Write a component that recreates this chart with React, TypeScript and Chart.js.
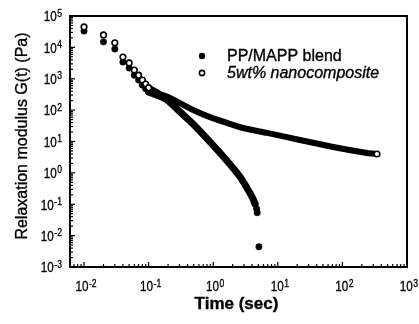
import React, { useEffect, useRef } from "react";
import { Chart, registerables } from "chart.js";

Chart.register(...registerables);

// ---- tick decades ----
const xDecades = [-2, -1, 0, 1, 2, 3];
const yDecades = [5, 4, 3, 2, 1, 0, -1, -2, -3];

// ---- PP/MAPP blend (filled circles) ----
const blendSparseT = [0.01, 0.02, 0.03, 0.04, 0.05, 0.06, 0.07, 0.08, 0.09, 0.1];
const blendSparseG = [33000, 15000, 8900, 3400, 2200, 1300, 910, 630, 480, 380];
const blendBandT = [0.1, 0.193, 0.306, 0.487, 0.891, 1.64, 2.6, 3.46, 4.13, 4.44];
const blendBandG = [380, 211, 88, 36, 9.7, 2.4, 0.75, 0.29, 0.149, 0.103];
const blendTailT = [4.44, 4.7, 4.8, 5.1];
const blendTailG = [0.103, 0.072, 0.054, 0.0044];

// ---- 5wt% nanocomposite (open circles) ----
const nanoSparseT = [0.01, 0.02, 0.03, 0.04, 0.05, 0.06, 0.07, 0.08, 0.09, 0.1, 343];
const nanoSparseG = [45000, 25000, 14000, 4900, 3200, 1900, 1300, 910, 680, 520, 4.0];
const nanoBandT = [0.1, 0.15, 0.214, 0.49, 0.89, 1.64, 2.89, 6.8, 22, 72, 240, 343];
const nanoBandG = [520, 328, 245, 101, 60, 39, 27, 18.8, 11.2, 6.7, 4.3, 4.0];

const legendLabels = ["PP/MAPP blend", "5wt% nanocomposite"];
const xTitle = "Time (sec)";
const yTitle = "Relaxation modulus G(t) (Pa)";

const X_MIN = Math.pow(10, -2.217);
const X_MAX = 1000;
const Y_MIN = 1e-3;
const Y_MAX = 1e5;

const FONT = '"Liberation Sans", Arial, Helvetica, sans-serif';
const HEAVY = 0.35;

function toPts(t: number[], g: number[]) {
  return t.map((x, i) => ({ x, y: g[i] }));
}

function heavyText(ctx: CanvasRenderingContext2D, s: string, x: number, y: number) {
  ctx.fillText(s, x, y);
  ctx.lineWidth = HEAVY;
  ctx.strokeText(s, x, y);
}

function drawPow(ctx: CanvasRenderingContext2D, cx: number, cy: number, exp: number, align: "center" | "right") {
  const sx = 0.78;
  const es = exp < 0 ? "-" + Math.abs(exp) : String(exp);
  ctx.font = `15px ${FONT}`;
  const wb = ctx.measureText("10").width * sx;
  ctx.font = `11px ${FONT}`;
  const we = ctx.measureText(es).width * sx;
  const total = wb + we + 0.5;
  const x0 = align === "center" ? cx - total / 2 : cx - total;
  ctx.textAlign = "left";
  ctx.textBaseline = "alphabetic";
  ctx.save();
  ctx.translate(x0, cy + 5.3);
  ctx.scale(sx, 1);
  ctx.font = `15px ${FONT}`;
  heavyText(ctx, "10", 0, 0);
  ctx.restore();
  ctx.save();
  ctx.translate(x0 + wb + 0.5, cy + 0.5);
  ctx.scale(sx, 1);
  ctx.font = `11px ${FONT}`;
  heavyText(ctx, es, 0, 0);
  ctx.restore();
}

const decor = {
  id: "decor",
  afterDatasetsDraw(chart: any) {
    const { ctx, chartArea: a, scales } = chart;
    const x = scales.x;
    const y = scales.y;
    ctx.save();
    ctx.strokeStyle = "#000";
    ctx.fillStyle = "#000";
    ctx.lineWidth = 2;
    ctx.strokeRect(a.left, a.top, a.right - a.left, a.bottom - a.top);

    // ticks
    ctx.lineWidth = 1.2;
    for (let d = -3; d <= 3; d++) {
      for (let m = 1; m <= 9; m++) {
        const v = m * Math.pow(10, d);
        if (v < x.min || v > x.max) continue;
        const px = x.getPixelForValue(v);
        const len = m === 1 ? 5 : 3;
        ctx.beginPath();
        ctx.moveTo(px, a.bottom);
        ctx.lineTo(px, a.bottom - len);
        ctx.stroke();
      }
    }
    for (let d = -3; d <= 5; d++) {
      for (let m = 1; m <= 9; m++) {
        const v = m * Math.pow(10, d);
        if (v < y.min * 0.999 || v > y.max * 1.001) continue;
        const py = y.getPixelForValue(v);
        const len = m === 1 ? 5 : 3;
        ctx.beginPath();
        ctx.moveTo(a.left, py);
        ctx.lineTo(a.left + len, py);
        ctx.stroke();
      }
    }

    // tick labels
    xDecades.forEach((d) => drawPow(ctx, x.getPixelForValue(Math.pow(10, d)) + 2, 286, d, "center"));
    yDecades.forEach((d) => drawPow(ctx, 62, y.getPixelForValue(Math.pow(10, d)), d, "right"));

    // axis titles
    ctx.textAlign = "center";
    ctx.textBaseline = "middle";
    ctx.font = `bold 17px ${FONT}`;
    heavyText(ctx, xTitle, (a.left + a.right) / 2 - 2, 304);
    ctx.save();
    ctx.translate(23, 136);
    ctx.rotate(-Math.PI / 2);
    ctx.font = `16px ${FONT}`;
    heavyText(ctx, yTitle, 0, 0);
    ctx.restore();

    // legend
    ctx.beginPath();
    ctx.arc(202, 56, 3.2, 0, Math.PI * 2);
    ctx.fill();
    ctx.beginPath();
    ctx.arc(202, 73, 2.6, 0, Math.PI * 2);
    ctx.fillStyle = "#fff";
    ctx.fill();
    ctx.lineWidth = 1.6;
    ctx.stroke();
    ctx.fillStyle = "#000";
    ctx.textAlign = "left";
    ctx.font = `16px ${FONT}`;
    heavyText(ctx, legendLabels[0], 227, 57);
    ctx.font = `italic 16px ${FONT}`;
    heavyText(ctx, legendLabels[1], 227, 74);
    ctx.restore();
  },
};

export default function App() {
  const ref = useRef<HTMLCanvasElement>(null);
  useEffect(() => {
    const chart = new Chart(ref.current as HTMLCanvasElement, {
      type: "scatter",
      data: {
        datasets: [
          {
            label: legendLabels[0],
            data: toPts(blendSparseT, blendSparseG).concat(toPts(blendTailT, blendTailG)),
            pointRadius: 3.2,
            pointBackgroundColor: "#000",
            pointBorderColor: "#000",
            pointBorderWidth: 0.5,
            order: 5,
          },
          {
            label: legendLabels[0] + " band",
            data: toPts(blendBandT, blendBandG),
            showLine: true,
            borderColor: "#000",
            borderWidth: 7,
            borderCapStyle: "round",
            borderJoinStyle: "round",
            pointRadius: 0,
            tension: 0.25,
            order: 4,
          },
          {
            label: legendLabels[1] + " band",
            data: toPts(nanoBandT, nanoBandG),
            showLine: true,
            borderColor: "#000",
            borderWidth: 6,
            borderCapStyle: "round",
            borderJoinStyle: "round",
            pointRadius: 0,
            tension: 0.2,
            order: 3,
          },
          {
            label: legendLabels[1],
            data: toPts(nanoSparseT, nanoSparseG),
            pointRadius: 2.8,
            pointBackgroundColor: "#fff",
            pointBorderColor: "#000",
            pointBorderWidth: 1.6,
            order: 2,
          },
        ],
      },
      options: {
        animation: false,
        responsive: false,
        events: [],
        layout: { padding: { left: 70, top: 16, right: 12, bottom: 57 } },
        plugins: { legend: { display: false }, tooltip: { enabled: false } },
        scales: {
          x: { type: "logarithmic", min: X_MIN, max: X_MAX, display: false },
          y: { type: "logarithmic", min: Y_MIN, max: Y_MAX, display: false },
        },
      },
      plugins: [decor],
    } as any);
    return () => chart.destroy();
  }, []);
  return (
    <div style={{ position: "absolute", left: 0, top: 0, width: 419, height: 324, background: "#fff" }}>
      <canvas ref={ref} width={419} height={324} style={{ display: "block" }} />
    </div>
  );
}
